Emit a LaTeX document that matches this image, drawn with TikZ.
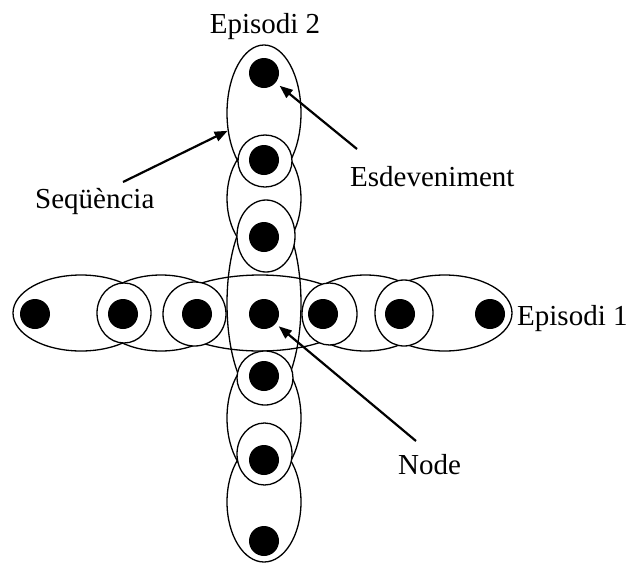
\documentclass[tikz,border=0pt]{standalone}
\usepackage{fontspec}
\setmainfont{Liberation Serif}
\usetikzlibrary{arrows.meta,shapes.geometric}

\begin{document}
\begin{tikzpicture}[x=1pt, y=-1pt,
  font=\fontsize{29}{32}\selectfont,
  dot/.style={circle, fill=black, inner sep=0pt, minimum size=30pt},
  seq/.style={ellipse, draw=black, line width=1.3pt, inner sep=0pt},
  ev/.style={ellipse, draw=black, fill=white, line width=1.3pt, inner sep=0pt},
  lab/.style={inner sep=0pt},
  arr/.style={-{Triangle[length=13pt, width=10pt]}, line width=2.2pt},
]
\useasboundingbox (0,0) rectangle (632,563);
% sequences, horizontal episode
\node[seq, minimum width=136pt, minimum height=76pt] (hs1) at (81,313) {};
\node[seq, minimum width=126pt, minimum height=76pt] (hs2) at (161,313) {};
\node[seq, minimum width=190pt, minimum height=76pt] (hs3) at (260,313) {};
\node[seq, minimum width=125pt, minimum height=76pt] (hs4) at (365.5,313) {};
\node[seq, minimum width=135pt, minimum height=76pt] (hs5) at (444.5,313) {};
% sequences, vertical episode
\node[seq, minimum width=74pt, minimum height=136pt] (vs1) at (264,113) {};
\node[seq, minimum width=74pt, minimum height=112pt] (vs2) at (264,198.5) {};
\node[seq, minimum width=74pt, minimum height=197pt] (vs3) at (264,303.5) {};
\node[seq, minimum width=74pt, minimum height=124pt] (vs4) at (264,418) {};
\node[seq, minimum width=74pt, minimum height=120pt] (vs5) at (264,502) {};
% events
\node[ev, minimum width=54pt, minimum height=60pt] (he2) at (124,313) {};
\node[ev, minimum width=63pt, minimum height=64pt] (he3) at (194.5,314) {};
\node[ev, minimum width=55pt, minimum height=62pt] (he5) at (329.5,314) {};
\node[ev, minimum width=58pt, minimum height=66pt] (he6) at (404,313) {};
\node[ev, minimum width=54pt, minimum height=52pt] (ve2) at (265,161) {};
\node[ev, minimum width=58pt, minimum height=72pt] (ve3) at (266,236) {};
\node[ev, minimum width=56pt, minimum height=54pt] (ve5) at (265,378) {};
\node[ev, minimum width=55pt, minimum height=62pt] (ve6) at (264.5,454) {};
% nodes
\node[dot] (h1) at (35,314) {};
\node[dot] (h2) at (123,314) {};
\node[dot] (h3) at (197,314) {};
\node[dot] (mid) at (264,314) {};
\node[dot] (h5) at (323,314) {};
\node[dot] (h6) at (400,314) {};
\node[dot] (h7) at (490,314) {};
\node[dot] (v1) at (264,73) {};
\node[dot] (v2) at (264,160) {};
\node[dot] (v3) at (264,237) {};
\node[dot] (v5) at (264,376) {};
\node[dot] (v6) at (264,460) {};
\node[dot] (v7) at (264,541) {};
% labels
\node[lab, anchor=base] (ep2) at (265,33) {Episodi 2};
\node[lab, anchor=base west] (ep1) at (517,325) {Episodi 1};
\node[lab, anchor=base west] (esd) at (350,186) {Esdeveniment};
\node[lab, anchor=base west] (seqlab) at (35,208) {Seqüència};
\node[lab, anchor=base west] (nodelab) at (398,474) {Node};
\coordinate (esdtail) at (357,149);
\coordinate (seqtail) at (123,182);
\coordinate (nodetail) at (416,441);
\draw[arr, shorten >=5pt] (esdtail) -- (v1);
\draw[arr] (seqtail) -- (vs1);
\draw[arr, shorten >=4pt] (nodetail) -- (mid);
\end{tikzpicture}
\end{document}
